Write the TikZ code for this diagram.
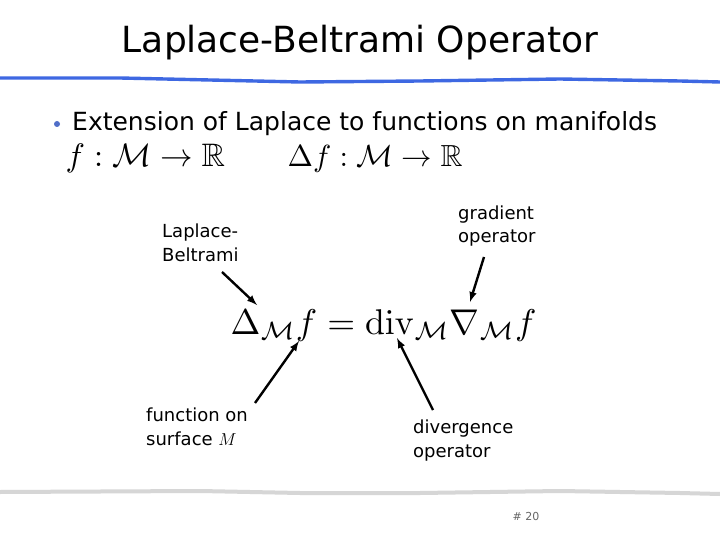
\documentclass[tikz,border=0pt]{standalone}
\usepackage{amsmath,amssymb}
\usepackage[no-math]{fontspec}
\setmainfont{DejaVu Sans}
\usepackage{tikz}

\definecolor{rulebl}{RGB}{62,104,226}
\definecolor{rulegr}{RGB}{214,214,214}
\definecolor{dotbl}{RGB}{80,110,200}

\begin{document}
\begin{tikzpicture}[x=1pt, y=-1pt,
    title/.style={anchor=base, font=\fontsize{36}{40}\selectfont},
    body/.style={anchor=base west, inner sep=0pt, font=\fontsize{25}{28}\selectfont},
    formula/.style={anchor=base west, inner sep=0pt},
    lbl/.style={anchor=base west, align=left, inner sep=0pt, font=\fontsize{18}{24}\selectfont},
    arr/.style={-latex, line width=2.4pt}]

    \useasboundingbox (0,0) rectangle (720,540);
    \fill[white] (0,0) rectangle (720,540);

    \node[title] (T) at (360,53) {Laplace-Beltrami Operator};
    \draw[rulebl, line width=3.4pt] (0,78) -- (120,78) -- (300,82) -- (420,81) -- (560,79) -- (680,81) -- (720,82);

    \fill[dotbl] (57,124) circle (3pt);
    \node[body] (B) at (72,131) {Extension of Laplace to functions on manifolds};
    \node[formula, scale=3.25] (F1) at (65,167) {$f:\mathcal{M}\rightarrow\mathbb{R}$};
    \node[formula, scale=3.05] (F2) at (287,167) {$\Delta f:\mathcal{M}\rightarrow\mathbb{R}$};

    \node[formula, scale=3.58] (EQ) at (230,334)
        {$\Delta_{\mathcal{M}} f = \mathrm{div}_{\mathcal{M}}\nabla_{\mathcal{M}} f$};

    % last line's baseline
    \node[lbl] (LB) at (162,261) {Laplace-\\Beltrami};
    \node[lbl] (GO) at (458,243) {gradient\\operator};
    \node[lbl] (FS) at (146,445) {function on\\surface $M$};
    \node[lbl] (DO) at (413,457) {divergence\\operator};

    \coordinate (lbt) at (222,272);
    \coordinate (lbh) at (257,305);
    \coordinate (got) at (484,257);
    \coordinate (goh) at (470,302);
    \coordinate (fst) at (255,403);
    \coordinate (fsh) at (299,341);
    \coordinate (dot) at (433,410);
    \coordinate (doh) at (397,338);

    \draw[arr] (lbt) -- (lbh);
    \draw[arr] (got) -- (goh);
    \draw[arr] (fst) -- (fsh);
    \draw[arr] (dot) -- (doh);

    \draw[rulegr, line width=4pt] (0,492) -- (200,491) -- (300,493) -- (420,493) -- (560,491) -- (680,493) -- (720,494);
    \node[anchor=base, text=black!60, font=\fontsize{11}{12}\selectfont] (PG) at (526,520) {\# 20};
\end{tikzpicture}
\end{document}
